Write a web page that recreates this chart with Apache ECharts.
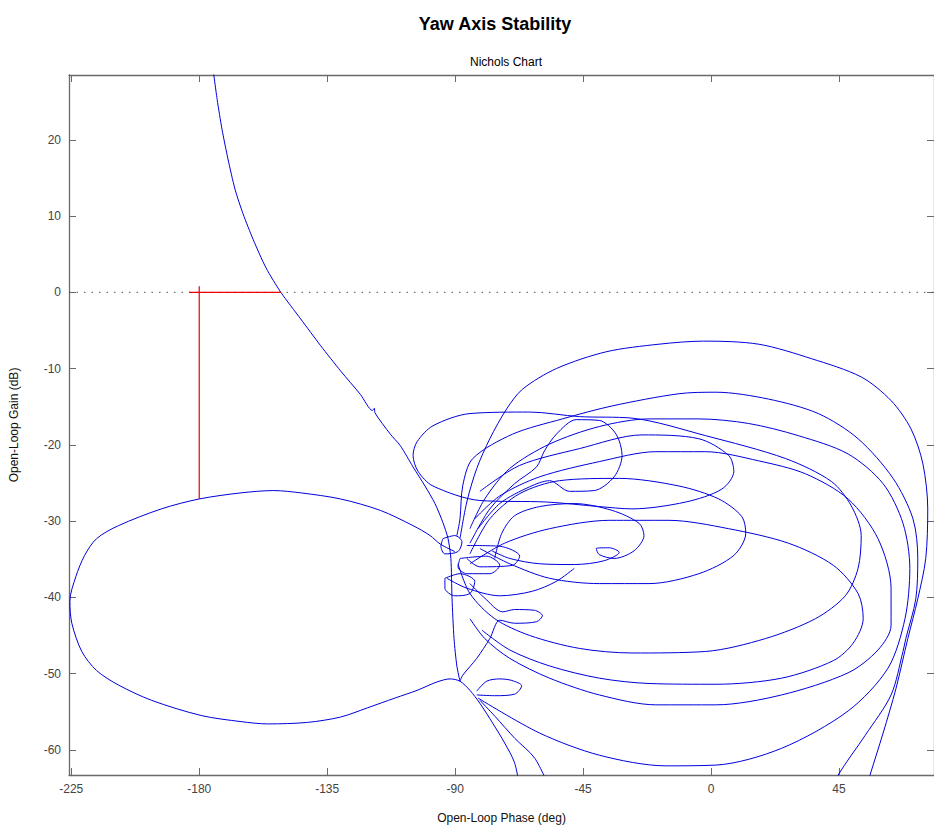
<!DOCTYPE html>
<html>
<head>
<meta charset="utf-8">
<script src="https://cdn.jsdelivr.net/npm/echarts@6/dist/echarts.min.js"></script>
<style>
html,body{margin:0;padding:0;background:#fff;}
#chart{width:934px;height:829px;}
</style>
</head>
<body>
<div id="chart"></div>
<script>
// ---- tick labels / axis ranges ----
const phaseTicks = [-225, -180, -135, -90, -45, 0, 45];
const gainTicks = [-60, -50, -40, -30, -20, -10, 0, 10, 20];
const phaseRange = [-225.8, 78.4];
const gainRange = [-63.3, 28.5];

// ---- Nichols response branches [phase deg, gain dB] ----
const mainBranch = [[-175.4,30.0],[-173.7,25.3],[-172.0,21.4],[-169.9,17.5],[-167.4,13.5],[-164.6,10.3],[-161.0,6.9],[-156.5,3.2],[-151.3,0.0],[-144.3,-3.5],[-137.3,-7.0],[-130.3,-10.3],[-123.3,-13.4],[-119.1,-15.5],[-118.4,-15.2],[-118.2,-15.8],[-112.8,-18.6],[-109.3,-20.1],[-104.8,-22.9],[-100.6,-25.4],[-97.1,-27.7],[-94.3,-30.2],[-92.5,-32.3],[-91.5,-34.9],[-91.1,-40.1],[-90.4,-45.4],[-89.4,-49.0],[-88.3,-51.0]];
const leftLobe = [[-90.1,-34.0],[-95.3,-33.0],[-98.8,-31.9],[-104.8,-30.6],[-116.3,-28.6],[-130.3,-27.1],[-144.3,-26.3],[-153.8,-26.0],[-165.3,-26.3],[-180.0,-27.1],[-193.3,-28.4],[-208.4,-30.6],[-216.1,-32.3],[-220.3,-34.5],[-223.4,-37.3],[-225.5,-40.5],[-224.8,-43.4],[-221.3,-47.1],[-216.1,-49.6],[-208.4,-51.5],[-196.8,-53.5],[-179.3,-55.5],[-165.3,-56.3],[-155.9,-56.6],[-141.9,-56.4],[-130.3,-55.7],[-120.9,-54.5],[-111.1,-53.2],[-103.4,-52.2],[-96.4,-51.1],[-91.8,-50.7],[-88.3,-51.0],[-84.8,-52.2],[-81.3,-53.9],[-76.8,-56.5],[-72.6,-59.1],[-69.1,-61.7],[-67.3,-65.0]];
const reentry = [[-56.8,-65.0],[-62.0,-61.1],[-69.0,-58.5],[-76.0,-55.6],[-81.3,-53.5]];
const loopR1 = [[-88.3,-32.3],[-85.9,-27.5],[-82.4,-23.1],[-77.8,-19.2],[-71.9,-15.3],[-66.3,-12.7],[-54.4,-10.0],[-36.9,-7.8],[-18.3,-6.8],[-2.6,-6.4],[16.7,-6.8],[35.3,-8.7],[52.8,-11.1],[63.3,-14.2],[70.3,-17.9],[74.5,-22.5],[76.2,-28.4],[75.5,-34.9],[72.7,-40.2],[69.2,-45.4],[65.0,-52.0],[60.5,-57.8],[55.9,-63.3],[54.5,-65.0]];
const loopR2 = [[-89.4,-31.9],[-88.3,-29.7],[-87.3,-25.3],[-83.8,-21.8],[-69.8,-18.6],[-52.3,-16.6],[-34.8,-14.9],[-11.3,-13.3],[1.7,-13.1],[20.2,-14.0],[37.7,-15.9],[51.7,-19.2],[64.0,-24.4],[71.0,-29.7],[72.7,-34.9],[72.0,-40.2],[68.5,-45.4],[67.5,-47.1],[63.3,-52.8],[54.2,-58.1],[44.7,-63.3],[43.2,-65.0]];
const loopUpper = [[-81.3,-26.1],[-67.3,-22.7],[-46.3,-20.5],[-24.3,-18.7],[-4.3,-19.2],[6.2,-21.4],[8.0,-23.5],[3.8,-25.8],[-8.9,-27.5],[-27.8,-28.4],[-39.3,-28.1],[-57.9,-27.5],[-81.3,-27.3],[-97.8,-25.4],[-103.0,-23.5],[-104.8,-21.4],[-103.4,-19.6],[-97.8,-17.5],[-84.8,-15.9],[-63.8,-15.7],[-46.3,-16.3],[-27.8,-16.5],[-1.9,-18.8],[26.2,-21.8],[42.3,-24.8],[49.3,-28.0],[52.8,-31.9],[51.7,-36.2],[47.2,-39.8],[36.7,-42.8],[19.2,-45.4],[-1.9,-47.1],[-27.8,-47.3],[-46.3,-46.7],[-63.8,-45.0],[-76.1,-42.8],[-84.8,-39.5],[-89.0,-35.6]];
const circleC1 = [[-84.8,-32.9],[-77.8,-28.4],[-69.1,-25.1],[-61.4,-22.9],[-58.6,-20.8],[-54.4,-18.6],[-47.4,-16.7],[-39.3,-16.8],[-33.4,-18.6],[-31.3,-21.4],[-34.1,-24.2],[-41.1,-26.0],[-49.8,-26.1],[-56.8,-24.7],[-63.8,-25.5],[-74.3,-27.7],[-82.0,-31.0]];
const loopR4 = [[-83.1,-29.7],[-74.3,-26.7],[-60.3,-24.2],[-39.3,-22.2],[-19.4,-20.9],[-1.9,-20.9],[16.7,-22.1],[33.2,-23.8],[48.2,-27.1],[58.7,-32.3],[63.3,-38.8],[63.3,-43.7],[58.7,-46.9],[48.2,-49.9],[24.8,-52.8],[1.7,-54.1],[-19.4,-54.1],[-39.3,-52.8],[-56.8,-50.6],[-70.8,-48.0],[-79.6,-45.4],[-84.8,-42.8]];
const loopR5 = [[-84.8,-35.6],[-72.6,-32.9],[-56.8,-31.0],[-35.8,-29.9],[-14.8,-29.9],[6.2,-31.0],[27.2,-32.9],[43.0,-35.8],[51.7,-39.5],[53.5,-42.8],[50.0,-46.0],[43.0,-48.3],[24.8,-50.6],[1.7,-51.4],[-21.8,-51.3],[-39.3,-50.6],[-56.8,-49.0],[-70.8,-46.9],[-80.6,-44.3]];
const loopR6 = [[-82.0,-53.2],[-60.3,-57.8],[-39.3,-60.7],[-15.9,-62.1],[1.7,-62.0],[24.8,-59.8],[48.2,-54.9],[62.2,-49.3],[68.2,-42.8],[69.9,-36.2],[67.5,-30.3],[60.5,-25.1],[48.2,-21.2],[30.7,-18.8],[13.2,-17.2],[-4.3,-16.6],[-21.8,-16.6],[-39.3,-17.6],[-56.8,-19.9],[-70.8,-23.1],[-79.6,-27.1],[-84.8,-31.0]];
const loopEb = [[-84.8,-34.3],[-77.8,-29.7],[-67.3,-26.4],[-53.3,-24.7],[-32.3,-24.4],[-11.3,-25.4],[2.7,-27.1],[10.8,-29.4],[12.2,-31.6],[8.0,-34.5],[-4.3,-36.9],[-21.8,-38.2],[-39.3,-38.2],[-56.8,-37.5],[-70.8,-35.6],[-81.3,-33.6]];
const loopEa = [[-76.1,-34.9],[-73.6,-31.6],[-69.1,-29.3],[-60.3,-28.1],[-48.1,-27.7],[-34.8,-28.6],[-25.3,-30.3],[-23.6,-31.9],[-27.1,-33.9],[-34.1,-34.9],[-39.3,-34.4],[-40.4,-33.6],[-35.8,-33.5],[-32.3,-34.1],[-37.6,-35.2],[-48.1,-35.7],[-60.3,-35.6],[-70.8,-34.9],[-77.1,-33.9]];
const smallLoop1 = [[-94.3,-32.3],[-90.1,-31.9],[-87.6,-32.7],[-89.0,-34.0],[-93.6,-34.3],[-95.0,-33.3],[-94.3,-32.3]];
const smallLoop3 = [[-88.3,-34.9],[-78.9,-34.6],[-74.3,-35.8],[-77.8,-36.9],[-85.9,-36.9],[-89.0,-36.0],[-88.3,-34.9]];
const smallLoop4 = [[-85.9,-33.2],[-74.3,-33.3],[-67.3,-34.6],[-69.8,-35.8],[-81.3,-36.0],[-85.9,-34.9]];
const smallLoop5 = [[-93.6,-37.5],[-88.3,-36.9],[-83.1,-37.9],[-84.8,-39.5],[-90.1,-39.8],[-93.6,-38.8],[-93.6,-37.5]];
const lowerArc = [[-92.9,-37.5],[-85.9,-38.8],[-74.3,-39.8],[-62.8,-39.2],[-54.4,-37.9],[-48.1,-36.2]];
const loopSLa = [[-84.8,-38.2],[-79.6,-40.1],[-73.3,-41.9],[-69.1,-41.6],[-62.1,-41.7],[-59.3,-42.4],[-61.4,-43.2],[-69.1,-43.4],[-74.3,-43.0],[-77.8,-45.4],[-82.4,-48.0],[-87.3,-50.2],[-88.3,-51.0]];
const loopSLb = [[-82.4,-52.3],[-78.9,-51.0],[-74.3,-50.7],[-70.1,-50.9],[-66.6,-51.6],[-69.1,-52.7],[-76.1,-52.9],[-82.4,-52.8]];

// ---- margin markers ----
const phaseMarginLine = [[-183.5,0],[-151.3,0]];
const gainMarginLine = [[-180,0.8],[-180,-27.1]];
const zeroDbLine = [[phaseRange[0],0],[phaseRange[1],0]];

const blueBranches = [mainBranch,leftLobe,reentry,loopR1,loopR2,loopUpper,circleC1,loopR4,loopR5,loopR6,loopEb,loopEa,smallLoop1,smallLoop3,smallLoop4,smallLoop5,lowerArc,loopSLa,loopSLb];

const FONT = "'Liberation Sans', Arial, Helvetica, sans-serif";
const axisCol = '#6a6a6a';
const labelCol = '#444444';

const series = [];
series.push({type:'line', data: zeroDbLine, showSymbol:false, silent:true,
  lineStyle:{color:'#555', width:1, type:[1.5,6]}});
blueBranches.forEach(b => series.push({type:'line', data:b, showSymbol:false, silent:true,
  smooth: b === mainBranch ? 0.25 : 0.3, lineStyle:{color:'#0000dd', width:1}}));
series.push({type:'line', data: phaseMarginLine, showSymbol:false, silent:true, lineStyle:{color:'#ee0000', width:1.2}});
series.push({type:'line', data: gainMarginLine, showSymbol:false, silent:true, lineStyle:{color:'#ee0000', width:1.2}});

function xAx(pos, show){
  return {type:'value', position:pos, min:phaseRange[0], max:phaseRange[1],
    axisLine:{show:true, onZero:false, lineStyle:{color:axisCol, width:1.3}},
    axisTick:{show:true, inside:true, length:7, customValues:phaseTicks, lineStyle:{color:axisCol}},
    axisLabel:{show:show, customValues:phaseTicks, color:labelCol, fontSize:12, fontFamily:FONT, margin:8},
    splitLine:{show:false},
    name: show ? 'Open-Loop Phase (deg)' : '', nameLocation:'middle', nameGap:37,
    nameTextStyle:{color:'#111', fontSize:12, fontFamily:FONT}};
}
function yAx(pos, show){
  return {type:'value', position:pos, min:gainRange[0], max:gainRange[1],
    axisLine:{show:true, onZero:false, lineStyle:{color:axisCol, width:1.3}},
    axisTick:{show:true, inside:true, length:7, customValues:gainTicks, lineStyle:{color:axisCol}},
    axisLabel:{show:show, customValues:gainTicks, color:labelCol, fontSize:12, fontFamily:FONT, margin:8},
    splitLine:{show:false},
    name: show ? 'Open-Loop Gain (dB)' : '', nameLocation:'middle', nameGap:49,
    nameTextStyle:{color:'#111', fontSize:12, fontFamily:FONT}};
}

const chart = echarts.init(document.getElementById('chart'), null, {renderer:'svg'});
chart.setOption({
  animation:false,
  backgroundColor:'#ffffff',
  title:[
    {text:'Yaw Axis Stability', left:490, top:10, textAlign:'center',
      textStyle:{fontSize:18, fontWeight:'bold', color:'#000', fontFamily:FONT}},
    {text:'Nichols Chart', left:501, top:51, textAlign:'center',
      textStyle:{fontSize:12, fontWeight:'normal', color:'#000', fontFamily:FONT}}
  ],
  grid:{left:67, top:75, width:869, height:702, containLabel:false},
  xAxis:[xAx('bottom', true), xAx('top', false)],
  yAxis:[yAx('left', true), yAx('right', false)],
  series: series
});
</script>
</body>
</html>
